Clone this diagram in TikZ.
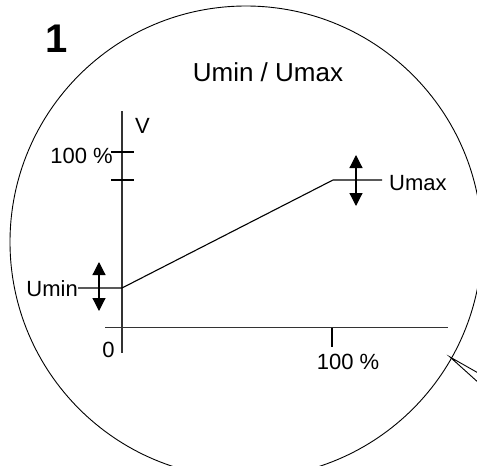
\documentclass[tikz,border=0pt]{standalone}
\usepackage{fontspec}
\setmainfont{Liberation Sans}
\usetikzlibrary{arrows.meta}
\begin{document}
\begin{tikzpicture}[x=1pt,y=-1pt,
  axisline/.style={line width=1.4pt,draw=black!80},
  thinline/.style={line width=1.1pt},
  lbl/.style={inner sep=0pt,font=\fontsize{22}{25}\selectfont},
  adjarrow/.style={line width=1.2pt,{Triangle[width=13pt,length=13pt]}-{Triangle[width=13pt,length=13pt]}}]
\useasboundingbox (0,0) rectangle (477,466);
\begin{scope}
\clip (0,0) rectangle (477,466);
\draw[line width=0.9pt] (246,242) circle[radius=236];
% pointer
\coordinate (ptip) at (450,357);
\coordinate (pa) at (480,374);
\coordinate (pb) at (480,384);
\draw[line width=0.9pt] (pa) -- (ptip) -- (pb);
\end{scope}
% labels
\node[inner sep=0pt,font=\fontsize{40}{42}\selectfont\bfseries] (num) at (57,38.5) {1};
\node[inner sep=0pt,font=\fontsize{26}{30}\selectfont] (title) at (268,72) {Umin / Umax};
% axes
\coordinate (ytop) at (122,111);
\coordinate (ybot) at (122,353);
\coordinate (xl) at (105,327.5);
\coordinate (xr) at (448,327.5);
\draw[axisline] (ytop) -- (ybot);
\draw[axisline] (xl) -- (xr);
% ticks
\coordinate (t1a) at (111,152); \coordinate (t1b) at (134,152);
\coordinate (t2a) at (111,180); \coordinate (t2b) at (134,180);
\coordinate (t3a) at (332,327.5); \coordinate (t3b) at (332,347);
\draw[thinline] (t1a) -- (t1b);
\draw[thinline] (t2a) -- (t2b);
\draw[thinline] (t3a) -- (t3b);
\node[lbl,anchor=west] (V) at (135,125.5) {V};
\node[lbl,anchor=east] (y100) at (113,155.5) {100 \%};
\node[lbl] (zero) at (108.5,349.5) {0};
\node[lbl] (x100) at (348,361.5) {100 \%};
% curve
\coordinate (p0) at (78,288);
\coordinate (p1) at (122,288);
\coordinate (p2) at (333,180);
\coordinate (p3) at (382,180);
\draw[thinline] (p0) -- (p1) -- (p2) -- (p3);
\node[lbl,anchor=east] (umin) at (78,288.5) {Umin};
\node[lbl,anchor=west] (umax) at (389,183.5) {Umax};
% adjust arrows
\coordinate (a1t) at (99,262); \coordinate (a1b) at (99,311);
\coordinate (a2t) at (356,155); \coordinate (a2b) at (356,206);
\draw[adjarrow] (a1t) -- (a1b);
\draw[adjarrow] (a2t) -- (a2b);
\end{tikzpicture}
\end{document}
